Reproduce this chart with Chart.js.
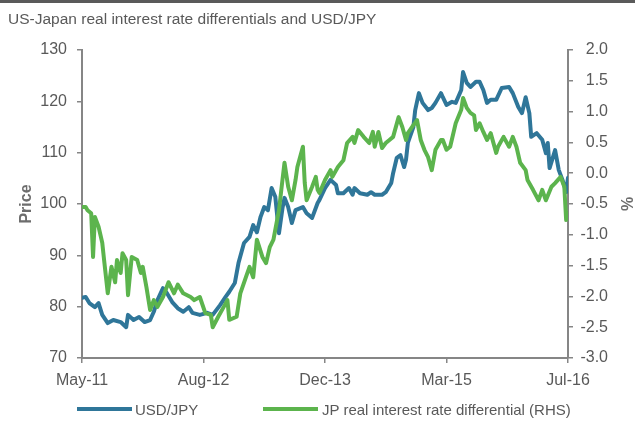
<!DOCTYPE html>
<html>
<head>
<meta charset="utf-8">
<script src="https://cdn.jsdelivr.net/npm/chart.js@4.4.1/dist/chart.umd.min.js"></script>
<style>
  html, body { margin: 0; padding: 0; background: #fff; }
  #wrap { position: relative; width: 635px; height: 421px; overflow: hidden; font-family: 'Liberation Sans', Arial, sans-serif; }
  #c { position: absolute; left: 0; top: 0; }
  .lg-line { position: absolute; height: 4px; width: 55px; top: 407px; }
  .lg-text { position: absolute; top: 401px; font-size: 15px; line-height: 18px; color: #595959; white-space: nowrap; }
</style>
</head>
<body>
<div id="wrap">
  <canvas id="c" width="635" height="421"></canvas>
  <div class="lg-line" id="lgBlue" style="left:77px;"></div>
  <div class="lg-text" id="lgBlueText" style="left:135px;"></div>
  <div class="lg-line" id="lgGreen" style="left:263px;"></div>
  <div class="lg-text" id="lgGreenText" style="left:322px;"></div>
</div>
<script>
// ---- data ----
const xTickLabels = ['May-11', 'Aug-12', 'Dec-13', 'Mar-15', 'Jul-16'];
const weeksPerTick = 66;
const seriesNames = ['USD/JPY', 'JP real interest rate differential (RHS)'];
const leftTicks = [70, 80, 90, 100, 110, 120, 130];
const rightTicks = [-3.0, -2.5, -2.0, -1.5, -1.0, -0.5, 0.0, 0.5, 1.0, 1.5, 2.0];

const usdWeeks = [0,2,4,7,9,11,14,17,21,24, 25,28,31,34,37,39,41,44,46,49, 52,55,58,60,64,68,71,75,78,80,
  83,85,88,91,93,95,97,99,101,103, 105,107,109,110,112,114,116,120,122,125, 128,129,132,135,138,139,142,145,147,148,
  151,155,157,159,163,165,168,169,171,173, 175,176,177,180,181,183,185,188,190,192, 195,196,198,201,203,206,207,209,211,214,
  216,218,220,222,225,228,232,234,237,239, 241,243,244,247,250,252,253,254,257,259, 261,263,264];
const usdJpy = [81.7,81.9,80.7,79.9,80.7,78.4,76.8,77.4,77.0,76.0, 78.4,77.4,78.0,77.0,77.4,79.0,81.3,83.6,82.7,80.9,
  79.7,79.0,79.9,78.8,78.4,78.8,78.4,80.3,81.9,82.9, 84.6,88.5,92.4,93.6,95.9,94.5,97.5,99.4,98.8,103.1,
  101.4,94.3,99.4,101.2,99.4,96.3,98.8,99.4,98.2,97.3, 100.2,100.8,103.1,104.7,103.7,102.1,102.1,103.1,101.8,103.1,
  102.1,101.8,102.3,101.8,101.8,102.3,104.1,106.0,109.0,109.5, 107.2,108.6,111.9,115.0,118.3,121.6,119.7,118.3,118.7,119.7,
  121.6,120.8,119.3,119.9,119.7,122.2,125.7,123.6,122.8,123.8, 123.8,122.2,119.7,120.3,120.3,122.6,122.8,121.6,118.9,117.7,
  120.8,117.7,113.1,113.8,112.5,109.9,111.9,107.0,110.5,106.6, 104.7,102.3,105.1];

const jpWeeks = [0,2,3,5,6,7,9,11,12,14, 16,18,19,21,22,24,25,27,30,32, 33,35,37,39,41,44,47,50,52,55,
  59,61,64,67,70,71,74,77,79,80, 84,86,89,91,93,95,98,100,102,104, 107,109,110,112,114,116,117,120,121,122,
  125,127,128,129,132,135,136,139,142,144, 147,148,150,153,156,158,159,161,163,165, 167,169,172,174,176,177,180,182,184,186,
  188,190,192,195,196,198,200,203,206,207, 209,211,213,214,216,218,220,222,225,226, 229,232,234,236,238,241,242,245,248,250,
  252,255,257,260,262,263,264];
const jpDiff = [-0.55,-0.55,-0.60,-0.65,-1.36,-0.71,-0.87,-1.13,-1.41,-1.95, -1.52,-1.77,-1.41,-1.62,-1.30,-1.41,-1.98,-1.36,-1.41,-1.62,
  -1.52,-1.85,-2.22,-2.06,-2.17,-2.01,-1.77,-1.95,-1.81,-1.95, -2.01,-2.06,-2.01,-2.27,-2.30,-2.50,-2.33,-2.17,-2.06,-2.38,
  -2.33,-1.95,-1.69,-1.52,-1.69,-1.08,-1.36,-1.46,-1.20,-1.08, -0.60,-0.08,0.17,-0.22,-0.44,-0.11,0.10,0.43,-0.16,-0.44,
  -0.22,-0.06,-0.27,-0.32,-0.11,0.05,-0.06,0.10,0.21,0.49, 0.59,0.49,0.70,0.59,0.49,0.67,0.43,0.67,0.41,0.49,
  0.54,0.59,0.91,0.75,0.54,0.65,0.78,0.86,0.54,0.38, 0.26,0.05,0.38,0.54,0.54,0.38,0.43,0.81,1.03,1.22,
  1.06,0.98,0.94,0.70,0.81,0.67,0.54,0.65,0.33,0.43, 0.59,0.43,0.59,0.43,0.17,0.05,-0.11,-0.27,-0.44,-0.27,
  -0.44,-0.22,-0.16,-0.06,-0.22,-0.76,-0.65];

// ---- styles ----
const BLUE = '#2f7699';
const GREEN = '#5cb44d';
const AXIS = '#868686';
const TXT = '#595959';
const FONT = "'Liberation Sans', Arial, sans-serif";

document.getElementById('lgBlue').style.background = BLUE;
document.getElementById('lgGreen').style.background = GREEN;
document.getElementById('lgBlueText').textContent = seriesNames[0];
document.getElementById('lgGreenText').textContent = seriesNames[1];

const extras = {
  id: 'extras',
  afterDraw(chart) {
    const ctx = chart.ctx;
    const y = chart.scales.y2;
    ctx.save();
    ctx.fillStyle = '#5a5a5a';
    ctx.fillRect(0, 0, chart.width, 3);
    ctx.translate(629, (y.top + y.bottom) / 2);
    ctx.rotate(-Math.PI / 2);
    ctx.font = "bold 16px " + FONT;
    ctx.fillStyle = '#6d6d6d';
    ctx.textAlign = 'center';
    ctx.textBaseline = 'middle';
    ctx.fillText('%', 0, 0);
    ctx.restore();
  }
};

new Chart(document.getElementById('c'), {
  type: 'line',
  data: {
    datasets: [
      {
        label: seriesNames[0],
        data: usdWeeks.map((w, i) => ({ x: w, y: usdJpy[i] })),
        yAxisID: 'y',
        borderColor: BLUE,
        backgroundColor: BLUE,
        borderWidth: 4,
        pointRadius: 0,
        tension: 0,
        borderJoinStyle: 'round',
        borderCapStyle: 'round',
        order: 1
      },
      {
        label: seriesNames[1],
        data: jpWeeks.map((w, i) => ({ x: w, y: jpDiff[i] })),
        yAxisID: 'y2',
        borderColor: GREEN,
        backgroundColor: GREEN,
        borderWidth: 4,
        pointRadius: 0,
        tension: 0,
        borderJoinStyle: 'round',
        borderCapStyle: 'round',
        order: 0
      }
    ]
  },
  options: {
    responsive: false,
    devicePixelRatio: 1,
    animation: false,
    layout: { padding: { left: 8, right: 27, top: 0, bottom: 0 } },
    plugins: {
      legend: { display: false },
      tooltip: { enabled: false },
      title: {
        display: true,
        text: 'US-Japan real interest rate differentials and USD/JPY',
        align: 'start',
        color: TXT,
        font: { family: FONT, size: 15.5, weight: 'normal' },
        padding: { top: 10, bottom: 21.4 }
      }
    },
    scales: {
      x: {
        type: 'linear',
        min: 0,
        max: weeksPerTick * (xTickLabels.length - 1),
        afterBuildTicks: (s) => { s.ticks = xTickLabels.map((_, i) => ({ value: i * weeksPerTick })); },
        afterFit: (s) => { s.height = 63; },
        grid: { drawOnChartArea: false, drawTicks: true, tickLength: 5, color: AXIS, lineWidth: 1.5 },
        border: { display: true, color: AXIS, width: 2 },
        ticks: {
          color: TXT,
          font: { family: FONT, size: 16 },
          padding: 8,
          maxRotation: 0,
          autoSkip: false,
          callback: (v) => xTickLabels[Math.round(v / weeksPerTick)]
        }
      },
      y: {
        position: 'left',
        min: leftTicks[0],
        max: leftTicks[leftTicks.length - 1],
        afterBuildTicks: (s) => { s.ticks = leftTicks.map(v => ({ value: v })); },
        afterFit: (s) => { s.width = 74; },
        grid: { drawOnChartArea: false, drawTicks: true, tickLength: 5, color: AXIS, lineWidth: 1.5 },
        border: { display: true, color: AXIS, width: 2 },
        ticks: { color: TXT, font: { family: FONT, size: 16 }, padding: 10, callback: (v) => String(v) },
        title: {
          display: true,
          text: 'Price',
          color: '#6d6d6d',
          font: { family: FONT, size: 16, weight: 'bold' },
          padding: { top: 9.4, bottom: 0 }
        }
      },
      y2: {
        position: 'right',
        min: rightTicks[0],
        max: rightTicks[rightTicks.length - 1],
        afterBuildTicks: (s) => { s.ticks = rightTicks.map(v => ({ value: v })); },
        afterFit: (s) => { s.width = 40; },
        grid: { drawOnChartArea: false, drawTicks: true, tickLength: 5, color: AXIS, lineWidth: 1.5 },
        border: { display: true, color: AXIS, width: 2 },
        ticks: { color: TXT, font: { family: FONT, size: 16 }, crossAlign: 'far', callback: (v) => v.toFixed(1) }
      }
    }
  },
  plugins: [extras]
});
</script>
</body>
</html>
